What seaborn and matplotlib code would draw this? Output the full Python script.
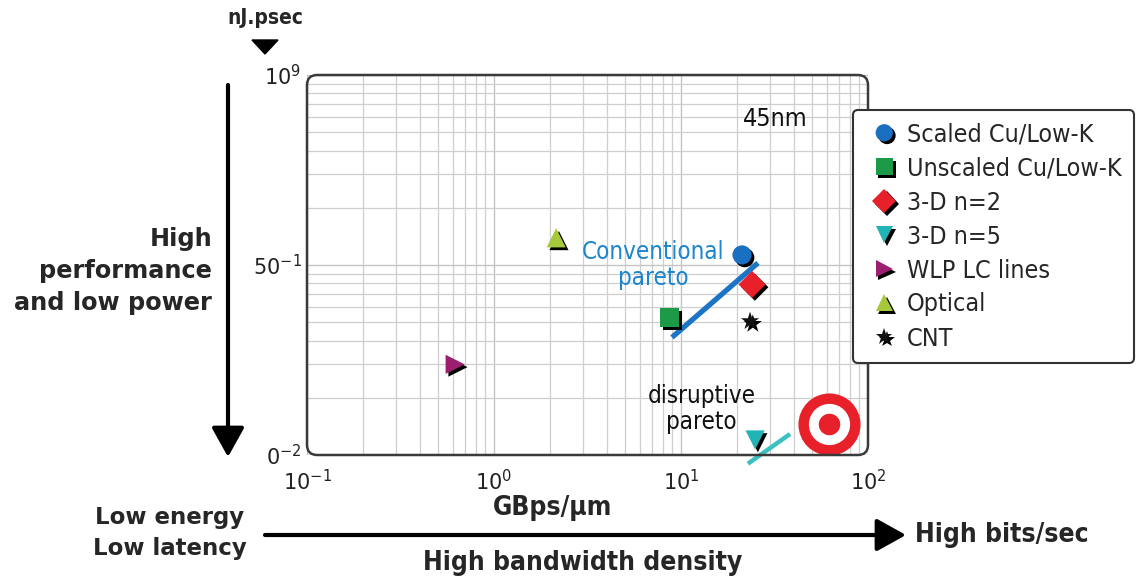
import matplotlib
matplotlib.use("Agg")
import matplotlib.pyplot as plt
import matplotlib.patheffects as pe
from matplotlib import font_manager
from matplotlib.patches import FancyBboxPatch, FancyArrowPatch, Polygon
from matplotlib.ticker import LogLocator, FixedLocator, FixedFormatter, NullFormatter
import seaborn as sns
import pandas as pd

# ---------------- data ----------------
technologies = ["Scaled Cu/Low-K", "Unscaled Cu/Low-K", "3-D n=2", "3-D n=5",
                "WLP LC lines", "Optical", "CNT"]
bandwidth = [21.2, 8.7, 24.0, 24.9, 0.62, 2.15, 23.4]          # GBps/um
energy_delay = [0.113, 0.053, 0.079, 0.012, 0.030, 0.139, 0.0506]  # nJ.psec
markers = ["o", "s", "D", "v", ">", "^", "*"]
colors = ["#1b6fc0", "#1d9a48", "#e8202a", "#22b3b6", "#9c1f6f", "#a6c83b", "#111111"]

target_bw = [62.0]
target_ed = [0.0146]

conv_pareto_bw = [8.95, 25.8]
conv_pareto_ed = [0.0416, 0.1025]
disr_pareto_bw = [22.8, 38.3]
disr_pareto_ed = [0.0090, 0.0129]

x_ticks = [0.1, 1, 10, 100]
x_ticklabels = ["10$^{-1}$", "10$^{0}$", "10$^{1}$", "10$^{2}$"]
y_ticks = [0.01, 0.1, 1]
y_ticklabels = ["0$^{-2}$", "50$^{-1}$", "10$^{9}$"]

df = pd.DataFrame({"technology": technologies, "bandwidth": bandwidth,
                   "energy_delay": energy_delay})

# ---------------- fonts ----------------
names = {f.name for f in font_manager.fontManager.ttflist}
if "Liberation Sans Narrow" in names:
    COND = dict(family=["Liberation Sans Narrow", "DejaVu Sans"])
else:
    COND = dict(family=["DejaVu Sans"], stretch="condensed")

sns.set_theme(style="white")
plt.rcParams["font.family"] = ["DejaVu Sans"]
plt.rcParams["mathtext.default"] = "regular"

fig = plt.figure(figsize=(11.38, 5.8), dpi=100)
ax = fig.add_axes([307/1138, 1-455/580, (868-307)/1138, (455-75)/580])

sns.scatterplot(data=df, x="bandwidth", y="energy_delay", hue="technology",
                style="technology", palette=dict(zip(technologies, colors)),
                markers=dict(zip(technologies, markers)), s=190, linewidth=0,
                ax=ax, zorder=5, legend=True)

shadow = [pe.SimplePatchShadow(offset=(2.0, -2.0), shadow_rgbFace="black", alpha=1.0),
          pe.Normal()]
for coll in ax.collections:
    coll.set_path_effects(shadow)

# target
ax.scatter(target_bw, target_ed, s=2000, color="#e8202a", linewidth=0, zorder=6)
ax.scatter(target_bw, target_ed, s=880, color="white", linewidth=0, zorder=7)
ax.scatter(target_bw, target_ed, s=240, color="#e8202a", linewidth=0, zorder=8)

# pareto lines
ax.plot(conv_pareto_bw, conv_pareto_ed, color="#1b75c4", lw=3.8,
        solid_capstyle="butt", zorder=4)
ax.plot(disr_pareto_bw, disr_pareto_ed, color="#3ec0c0", lw=3.2,
        solid_capstyle="butt", zorder=9, clip_on=False)

ax.set_xscale("log")
ax.set_yscale("log")
ax.set_xlim(0.1, 100)
ax.set_ylim(0.01, 1)

ax.xaxis.set_major_locator(FixedLocator(x_ticks))
ax.xaxis.set_major_formatter(FixedFormatter(x_ticklabels))
ax.yaxis.set_major_locator(FixedLocator(y_ticks))
ax.yaxis.set_major_formatter(FixedFormatter(y_ticklabels))
ax.xaxis.set_minor_locator(LogLocator(base=10, subs=range(2, 10)))
ax.yaxis.set_minor_locator(LogLocator(base=10, subs=range(2, 10)))
ax.xaxis.set_minor_formatter(NullFormatter())
ax.yaxis.set_minor_formatter(NullFormatter())
ax.tick_params(which="both", length=0, labelsize=15, colors="#222222")
ax.tick_params(axis="x", pad=10)
ax.tick_params(axis="y", pad=4)
ax.grid(which="major", color="#c4c4c4", lw=1.0)
ax.grid(which="minor", color="#cfcfcf", lw=0.9)
ax.set_xlabel("")
ax.set_ylabel("")
for sp in ax.spines.values():
    sp.set_visible(False)

frame = FancyBboxPatch((0, 0), 1, 1, boxstyle="round,pad=0,rounding_size=0.018",
                       mutation_aspect=561/380, transform=ax.transAxes,
                       fill=False, ec="#3a3a3a", lw=1.8, clip_on=False, zorder=10)
ax.add_patch(frame)

# in-plot texts
ax.text(31.8, 0.585, "45nm", ha="center", va="center", fontsize=18, color="#111111", **COND)
ax.text(7.1, 0.1, "Conventional\npareto", ha="center", va="center", fontsize=17.3,
        color="#1b85d0", linespacing=1.1, **COND)
ax.text(12.9, 0.0174, "disruptive\npareto", ha="center", va="center", fontsize=17.3,
        color="#111111", linespacing=1.1, **COND)

# legend
handles, labels = ax.get_legend_handles_labels()
ax.get_legend().remove()
leg = fig.legend(handles, labels, loc="upper left",
                 bbox_to_anchor=(853/1138, 1-110/580), bbox_transform=fig.transFigure,
                 frameon=True, fancybox=True, edgecolor="#333333", framealpha=1,
                 prop=dict(size=18, **{k: (v[0] if k == "family" else v) for k, v in COND.items()}),
                 handletextpad=0.15, labelspacing=0.4, borderpad=0.5, handlelength=1.5,
                 borderaxespad=0, markerscale=0.9)
leg.get_frame().set_linewidth(1.5)
for h in leg.legend_handles:
    h.set_path_effects(shadow)

# axis annotations
fig.text(265/1138, 1-18/580, "nJ.psec", ha="center", va="center", fontsize=15,
         fontweight="bold", **COND)
tri = Polygon([[252/100, (580-40)/100], [278/100, (580-40)/100], [265/100, (580-54)/100]],
              closed=True, color="black", transform=fig.dpi_scale_trans)
fig.add_artist(tri)

yarrow = FancyArrowPatch((2.28, (580-85)/100), (2.28, (580-457)/100),
                         arrowstyle="-|>,head_width=0.5,head_length=0.9",
                         mutation_scale=20, lw=3, color="black",
                         transform=fig.dpi_scale_trans, shrinkA=0, shrinkB=0)
fig.add_artist(yarrow)
xarrow = FancyArrowPatch((2.65, (580-535)/100), (9.06, (580-535)/100),
                         arrowstyle="-|>,head_width=0.5,head_length=0.9",
                         mutation_scale=20, lw=3, color="black",
                         transform=fig.dpi_scale_trans, shrinkA=0, shrinkB=0)
fig.add_artist(xarrow)

fig.text(212/1138, 1-271/580, "High\nperformance\nand low power", ha="right",
         va="center", fontsize=17.3, fontweight="bold", linespacing=1.43)
fig.text(170/1138, 1-533/580, "Low energy\nLow latency", ha="center", va="center",
         fontsize=16.5, fontweight="bold", linespacing=1.45)
fig.text(553/1138, 1-508/580, "GBps/µm", ha="center", va="center", fontsize=19,
         fontweight="bold", **COND)
fig.text(915/1138, 1-535/580, "High bits/sec", ha="left", va="center", fontsize=19,
         fontweight="bold", **COND)
fig.text(583/1138, 1-563/580, "High bandwidth density", ha="center", va="center",
         fontsize=19, fontweight="bold", **COND)

fig.savefig("out.png", dpi=100, facecolor="white")
